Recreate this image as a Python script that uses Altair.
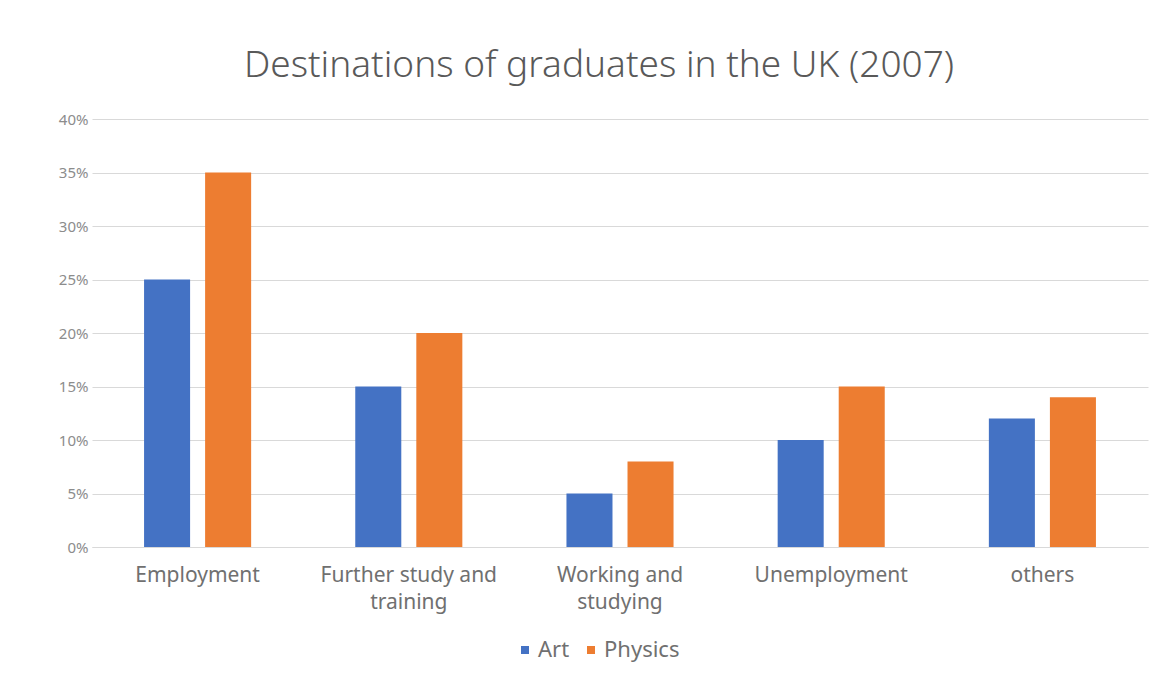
import altair as alt
import pandas as pd

categories = ["Employment", "Further study and training", "Working and studying", "Unemployment", "others"]
art = [25, 15, 5, 10, 12]
physics = [35, 20, 8, 15, 14]
series = ["Art", "Physics"]
colors = ["#4472C4", "#ED7D31"]

rows = []
for c, a, p in zip(categories, art, physics):
    rows.append({"category": c, "series": "Art", "value": a / 100})
    rows.append({"category": c, "series": "Physics", "value": p / 100})
df = pd.DataFrame(rows)

label_expr = (
    "datum.label == 'Further study and training' ? ['Further study and', 'training'] : "
    "datum.label == 'Working and studying' ? ['Working and', 'studying'] : datum.label"
)

chart = alt.Chart(df).mark_bar().encode(
    x=alt.X("category:N", sort=categories, title=None,
            scale=alt.Scale(paddingInner=0.493, paddingOuter=0.2465),
            axis=alt.Axis(labelAngle=0, labelExpr=label_expr, labelFontSize=21,
                          labelColor="#707070", labelPadding=17, ticks=False,
                          domainColor="#d9d9d9", labelFont="Noto Sans",
                          labelLineHeight=27, labelBaseline="top")),
    xOffset=alt.XOffset("series:N", sort=series,
                        scale=alt.Scale(paddingInner=0.246, paddingOuter=0)),
    y=alt.Y("value:Q", title=None,
            scale=alt.Scale(domain=[0, 0.4], nice=False),
            axis=alt.Axis(format=".0%", values=[0, 0.05, 0.1, 0.15, 0.2, 0.25, 0.3, 0.35, 0.4],
                          labelFontSize=15, labelColor="#8c8c8c", labelFont="Noto Sans",
                          domain=False, ticks=False, labelPadding=4,
                          gridColor="#d9d9d9", gridWidth=1)),
    color=alt.Color("series:N", sort=series, title=None,
                    scale=alt.Scale(domain=series, range=colors),
                    legend=alt.Legend(orient="none", legendX=422, legendY=520,
                                      direction="horizontal", symbolType="square",
                                      symbolSize=64, labelFontSize=22, labelColor="#707070",
                                      labelFont="Noto Sans", columnPadding=10,
                                      symbolStrokeWidth=0, labelOffset=2)),
).properties(
    width=1056,
    height=428,
    background="white",
    title=alt.TitleParams("Destinations of graduates in the UK (2007)", fontSize=37,
                          font="Noto Sans", fontWeight=300, color="#595959",
                          anchor="middle", offset=27, dx=-21),
    padding={"left": 84, "top": 111, "right": 20, "bottom": 120},
    autosize=alt.AutoSizeParams(type="none"),
).configure_view(stroke=None)

chart.save("out.html", embed_options={"renderer": "svg", "actions": False})
